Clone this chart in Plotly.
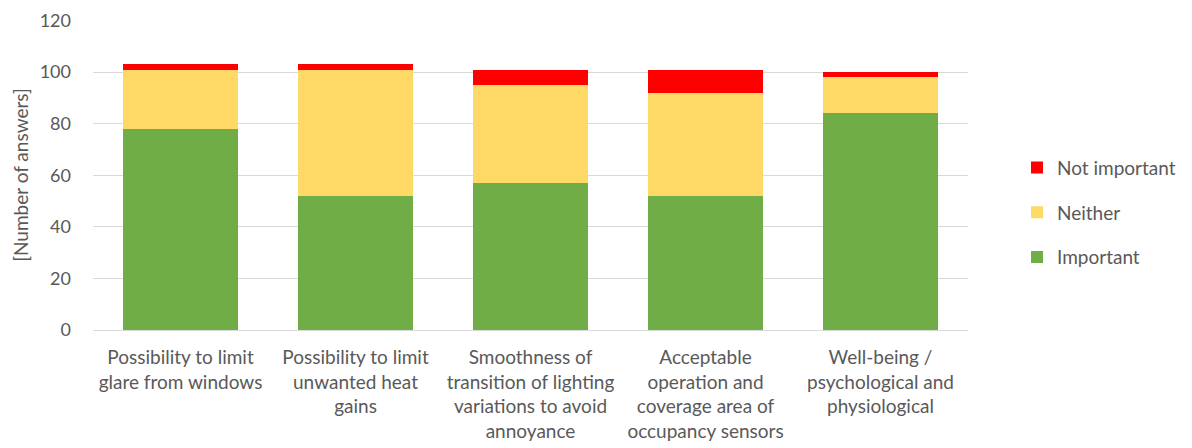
import plotly.graph_objects as go

categories = [
    "Possibility to limit<br>glare from windows",
    "Possibility to limit<br>unwanted heat<br>gains",
    "Smoothness of<br>transition of lighting<br>variations to avoid<br>annoyance",
    "Acceptable<br>operation and<br>coverage area of<br>occupancy sensors",
    "Well-being /<br>psychological and<br>physiological",
]
important = [78, 52, 57, 52, 84]
neither = [23, 49, 38, 40, 14]
not_important = [2, 2, 6, 9, 2]
y_ticks = [0, 20, 40, 60, 80, 100, 120]

font_family = "Lato, Open Sans, sans-serif"
gray = "#595959"
fs = 19

fig = go.Figure()
fig.add_trace(go.Bar(x=categories, y=important, name="Important",
                     marker=dict(color="#70AD47", line=dict(width=0)),
                     legendgroup="g3", legendrank=3))
fig.add_trace(go.Bar(x=categories, y=neither, name="Neither",
                     marker=dict(color="#FFD966", line=dict(width=0)),
                     legendgroup="g2", legendrank=2))
fig.add_trace(go.Bar(x=categories, y=not_important, name="Not important",
                     marker=dict(color="#FF0000", line=dict(width=0)),
                     legendgroup="g1", legendrank=1))

fig.update_layout(
    barmode="stack",
    bargap=0.34,
    width=1192, height=448,
    margin=dict(l=85, r=232, t=12, b=126, autoexpand=False),
    paper_bgcolor="white", plot_bgcolor="white",
    font=dict(family=font_family, size=fs, color=gray),
    legend=dict(x=1.056, xanchor="left", y=0.585, yanchor="top",
                traceorder="grouped", tracegroupgap=17,
                font=dict(size=fs, color=gray)),
    showlegend=True,
)
fig.update_yaxes(range=[0, 120.2], tickvals=y_ticks, showgrid=True,
                 gridcolor="#D9D9D9", gridwidth=1, zeroline=False,
                 ticks="", ticklabelstandoff=21, automargin=False,
                 ticklabeloverflow="allow",
                 tickfont=dict(size=18, color=gray),
                 title=dict(text="[Number of answers]", standoff=6,
                            font=dict(size=fs, color=gray)))
fig.update_xaxes(showline=True, linecolor="#D9D9D9", linewidth=1,
                 ticks="", tickangle=0, ticklabelstandoff=10, automargin=False,
                 ticklabeloverflow="allow",
                 tickfont=dict(size=fs, color=gray))

fig.write_html("out.html")
